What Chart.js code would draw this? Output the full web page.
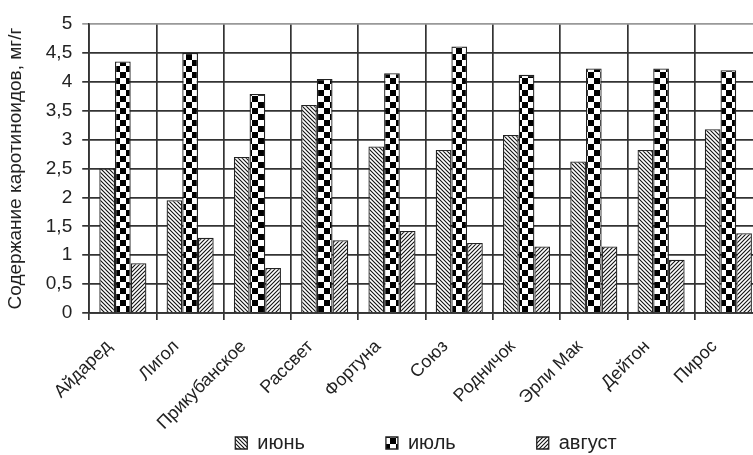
<!DOCTYPE html>
<html>
<head>
<meta charset="utf-8">
<script src="https://cdn.jsdelivr.net/npm/chart.js@4/dist/chart.umd.min.js"></script>
<style>
html,body{margin:0;padding:0;background:#fff;overflow:hidden;width:753px;height:455px;}
#wrap{position:absolute;left:0;top:0;width:762px;height:455px;}
</style>
</head>
<body>
<div id="wrap"><canvas id="c" width="762" height="455"></canvas></div>
<script>
const categories = ["Айдаред","Лигол","Прикубанское","Рассвет","Фортуна","Союз","Родничок","Эрли Мак","Дейтон","Пирос"];
const seriesNames = ["июнь","июль","август"];
const june   = [2.50, 1.95, 2.70, 3.60, 2.88, 2.82, 3.08, 2.62, 2.82, 3.18];
const july   = [4.35, 4.50, 3.79, 4.05, 4.15, 4.61, 4.12, 4.23, 4.23, 4.20];
const august = [0.86, 1.30, 0.78, 1.26, 1.42, 1.21, 1.15, 1.15, 0.92, 1.38];
const yTicks = [0,0.5,1,1.5,2,2.5,3,3.5,4,4.5,5];

function makePattern(kind){
  const n = kind === 'check' ? 12 : 4;
  const cv = document.createElement('canvas');
  cv.width = n; cv.height = n;
  const g = cv.getContext('2d');
  g.fillStyle = '#fff'; g.fillRect(0,0,n,n);
  if(kind === 'check'){
    g.fillStyle = '#000';
    g.fillRect(0,0,6,6); g.fillRect(6,6,6,6);
  } else {
    g.strokeStyle = '#111'; g.lineWidth = 1.1;
    g.beginPath();
    if(kind === 'back'){
      g.moveTo(-1,-1); g.lineTo(n+1,n+1);
      g.moveTo(-1,n-1); g.lineTo(1,n+1);
      g.moveTo(n-1,-1); g.lineTo(n+1,1);
    } else {
      g.moveTo(-1,n+1); g.lineTo(n+1,-1);
      g.moveTo(-1,1); g.lineTo(1,-1);
      g.moveTo(n-1,n+1); g.lineTo(n+1,n-1);
    }
    g.stroke();
  }
  return document.getElementById('c').getContext('2d').createPattern(cv,'repeat');
}

const pBack = makePattern('back');
const pCheck = makePattern('check');
const pFwd = makePattern('fwd');

const FONT = "'Liberation Sans', Arial, sans-serif";
const LEGEND_PAD = 81;

const layoutTweak = {
  id: 'layoutTweak',
  afterLayout(chart){
    const lg = chart.legend;
    if (lg) { lg.left += 43; lg.right += 43; }
    const xs = chart.scales.x;
    if (xs) { xs.bottom = chart.height; xs.height = xs.bottom - xs.top; }
  }
};

new Chart(document.getElementById('c'), {
  type: 'bar',
  data: {
    labels: categories,
    datasets: [
      {label: seriesNames[0], data: june, backgroundColor: pBack, borderColor: '#222', borderWidth: 1.3},
      {label: seriesNames[1], data: july, backgroundColor: pCheck, borderColor: '#222', borderWidth: 1.3},
      {label: seriesNames[2], data: august, backgroundColor: pFwd, borderColor: '#222', borderWidth: 1.3}
    ]
  },
  plugins: [layoutTweak],
  options: {
    responsive: false,
    animation: false,
    devicePixelRatio: 1,
    layout: {padding: {left: 4, right: 0, top: 24, bottom: 0}},
    datasets: {bar: {categoryPercentage: 0.70, barPercentage: 1.0}},
    plugins: {
      legend: {
        position: 'bottom',
        maxHeight: 103,
        labels: {
          font: {family: FONT, size: 20},
          color: '#222',
          boxWidth: 12, boxHeight: 12,
          padding: LEGEND_PAD
        }
      },
      tooltip: {enabled: false}
    },
    scales: {
      x: {
        afterFit: (axis) => { axis.height = 39; },
        grid: {color: '#333', lineWidth: 1.7, tickLength: 7, offset: true},
        border: {color: '#333', width: 1.7},
        ticks: {font: {family: FONT, size: 18}, color: '#222', maxRotation: 45, minRotation: 45, padding: 16, labelOffset: -14, autoSkip: false}
      },
      y: {
        min: 0, max: 5,
        afterBuildTicks: (ax) => { ax.ticks = yTicks.map(v => ({value: v})); },
        grid: {color: (ctx) => (ctx.tick && ctx.tick.value === 5 ? '#999' : '#333'), lineWidth: 1.7, tickLength: 7},
        border: {color: '#333', width: 1.7},
        ticks: {font: {family: FONT, size: 19}, color: '#222', padding: 10,
          callback: (v) => String(v).replace('.', ',')},
        title: {display: true, text: 'Содержание каротиноидов, мг/г', font: {family: FONT, size: 19}, color: '#222', padding: {top: 0, bottom: 9}}
      }
    }
  }
});
</script>
</body>
</html>
